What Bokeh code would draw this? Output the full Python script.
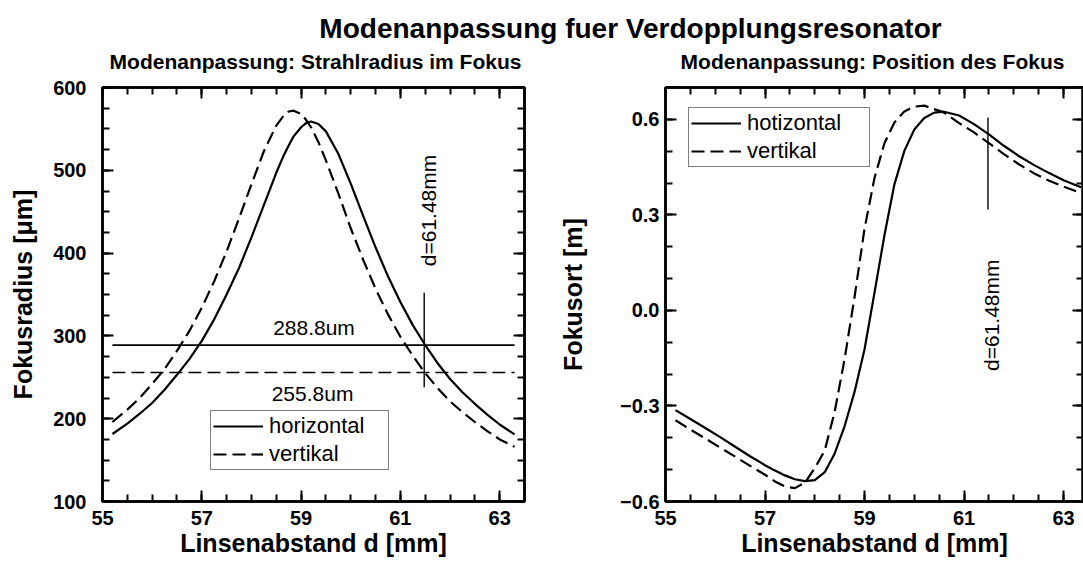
from math import pi
from bokeh.plotting import figure
from bokeh.models import (Range1d, LinearAxis, FixedTicker, CustomJSTickFormatter,
                          Label, Legend, LegendItem)
from bokeh.layouts import column, row
from bokeh.embed import file_html
from bokeh.resources import INLINE

FONT = "Liberation Sans"

# ---------------- data ----------------
title_main = "Modenanpassung fuer Verdopplungsresonator"
title_left = "Modenanpassung: Strahlradius im Fokus"
title_right = "Modenanpassung: Position des Fokus"

# left panel: beam radius in focus [um] vs lens distance d [mm]
d_left = [55.2, 55.5, 55.75, 56.0, 56.25, 56.5, 56.75, 57.0, 57.25, 57.5, 57.75, 58.0,
          58.25, 58.5, 58.65, 58.75, 58.85, 59.0, 59.1, 59.2, 59.35, 59.5, 59.75, 60.0,
          60.25, 60.5, 60.75, 61.0, 61.25, 61.5, 61.75, 62.0, 62.25, 62.5, 62.75, 63.0, 63.3]
radius_h = [181.5, 194, 206, 219, 235, 253, 272, 294, 320, 350, 382, 419,
            458, 497, 518, 530, 541, 552, 557, 559, 556, 547, 520, 484,
            445, 407, 372, 341, 313, 289, 267, 248, 232, 218, 205, 193, 181]
radius_v = [196, 211, 225, 242, 260, 282, 306, 334, 366, 402, 442, 483,
            523, 554, 566, 571, 572, 568, 561, 552, 534, 512, 472, 430,
            392, 357, 326, 299, 276, 255, 237, 221, 208, 196, 185, 175, 166]

# right panel: focus position [m] vs lens distance d [mm]
d_right = [55.2, 55.5, 55.8, 56.1, 56.4, 56.7, 57.0, 57.2, 57.4, 57.6, 57.8, 58.0,
           58.2, 58.4, 58.6, 58.8, 59.0, 59.2, 59.4, 59.6, 59.8, 60.0, 60.2, 60.4,
           60.6, 60.9, 61.2, 61.5, 61.8, 62.1, 62.4, 62.7, 63.0, 63.35]
focus_h = [-0.313, -0.341, -0.369, -0.398, -0.428, -0.458, -0.486, -0.503, -0.518, -0.530,
           -0.536, -0.533, -0.508, -0.449, -0.363, -0.255, -0.122, 0.056, 0.236, 0.396,
           0.501, 0.568, 0.604, 0.621, 0.624, 0.612, 0.585, 0.553, 0.517, 0.485,
           0.457, 0.432, 0.409, 0.387]
focus_v = [-0.345, -0.374, -0.402, -0.431, -0.459, -0.488, -0.516, -0.537, -0.553, -0.558,
           -0.541, -0.495, -0.440, -0.318, -0.152, 0.043, 0.257, 0.416, 0.525, 0.590,
           0.625, 0.640, 0.643, 0.632, 0.621, 0.588, 0.559, 0.525, 0.491, 0.459,
           0.431, 0.408, 0.389, 0.368]

# markers
marker_d = 61.48
waist_h = 288.8
waist_v = 255.8
waist_x = [55.2, 63.3]
marker_left_y = [238, 352]
marker_right_y = [0.317, 0.606]
label_waist_h = "288.8um"
label_waist_v = "255.8um"
label_marker = "d=61.48mm"

x_ticks = [55, 57, 59, 61, 63]
y_ticks_left = [100, 200, 300, 400, 500, 600]
y_ticks_right = [-0.6, -0.3, 0.0, 0.3, 0.6]

xlabel = "Linsenabstand d [mm]"
ylabel_left = "Fokusradius [\u03bcm]"
ylabel_right = "Fokusort [m]"

DASH = "13 6"
HEAD_H = 74


def style_axis(ax, ticker, show_labels):
    ax.ticker = ticker
    ax.axis_line_width = 2.5
    ax.axis_line_color = "black"
    ax.major_tick_in = 11
    ax.major_tick_out = 0
    ax.minor_tick_in = 7
    ax.minor_tick_out = 0
    ax.major_tick_line_width = 2
    ax.minor_tick_line_width = 2
    ax.major_tick_line_color = "black"
    ax.minor_tick_line_color = "black"
    if show_labels:
        ax.major_label_text_font = FONT
        ax.major_label_text_font_style = "bold"
        ax.major_label_text_font_size = "20px"
        ax.major_label_text_color = "black"
        ax.axis_label_text_font = FONT
        ax.axis_label_text_font_style = "bold"
        ax.axis_label_text_font_size = "25px"
        ax.axis_label_text_color = "black"
    else:
        ax.major_label_text_font_size = "0px"
        ax.major_label_standoff = 0
        ax.formatter = CustomJSTickFormatter(code="return '';")


def make_panel(width, xr, yr, border_left, border_right, yticks, yminor):
    p = figure(width=width, height=561 - HEAD_H, x_range=xr, y_range=yr,
               output_backend="svg", toolbar_location=None,
               min_border_left=border_left, min_border_right=border_right,
               min_border_top=87 - HEAD_H, min_border_bottom=60)
    p.xgrid.visible = False
    p.ygrid.visible = False
    p.outline_line_color = "black"
    p.outline_line_width = 2.5
    p.background_fill_color = "white"
    p.border_fill_color = "white"
    xminor = [55 + 0.5 * i for i in range(18)]
    xt = FixedTicker(ticks=x_ticks, minor_ticks=xminor)
    yt = FixedTicker(ticks=yticks, minor_ticks=yminor)
    style_axis(p.xaxis[0], xt, True)
    style_axis(p.yaxis[0], yt, True)
    p.xaxis[0].axis_label = xlabel
    p.xaxis[0].major_label_standoff = 9
    p.xaxis[0].axis_label_standoff = 1
    top = LinearAxis()
    style_axis(top, FixedTicker(ticks=x_ticks, minor_ticks=xminor), False)
    p.add_layout(top, "above")
    right = LinearAxis()
    style_axis(right, FixedTicker(ticks=yticks, minor_ticks=yminor), False)
    p.add_layout(right, "right")
    return p


def text(p, x, y, s, angle=0.0, size="21px"):
    p.add_layout(Label(x=x, y=y, text=s, angle=angle, text_align="center",
                       text_baseline="middle", text_font=FONT,
                       text_font_size=size, text_color="black"))


def legend(p, renderers, labels, loc, label_width):
    lg = Legend(items=[LegendItem(label=l, renderers=[r]) for l, r in zip(labels, renderers)],
                location=loc, padding=2, spacing=2, margin=0,
                glyph_width=50, glyph_height=24, label_height=24, label_standoff=6,
                label_width=label_width,
                label_text_font=FONT, label_text_font_size="22px", label_text_color="black",
                border_line_color="black", border_line_width=1,
                background_fill_color="white", background_fill_alpha=1.0)
    p.add_layout(lg)


# ---------------- header ----------------
head = figure(width=1083, height=HEAD_H, x_range=Range1d(0, 1083), y_range=Range1d(0, HEAD_H),
              output_backend="svg", toolbar_location=None,
              x_axis_type=None, y_axis_type=None, min_border=0)
head.outline_line_color = None
head.grid.visible = False
head.add_layout(Label(x=630, y=HEAD_H - 28, text=title_main, text_align="center",
                      text_baseline="middle", text_font=FONT, text_font_size="28px",
                      text_font_style="bold", text_color="black"))
head.add_layout(Label(x=315, y=HEAD_H - 61, text=title_left, text_align="center",
                      text_baseline="middle", text_font=FONT, text_font_size="21px",
                      text_font_style="bold", text_color="black"))
head.add_layout(Label(x=872, y=HEAD_H - 61, text=title_right, text_align="center",
                      text_baseline="middle", text_font=FONT, text_font_size="21px",
                      text_font_style="bold", text_color="black"))

# ---------------- left panel ----------------
pL = make_panel(544, Range1d(55, 63.5), Range1d(100, 600), 102, 20,
                y_ticks_left, [100 + 25 * i for i in range(21)])
pL.yaxis[0].axis_label = ylabel_left
pL.yaxis[0].major_label_standoff = 16
pL.yaxis[0].axis_label_standoff = 13

rLh = pL.line(d_left, radius_h, line_color="black", line_width=2.2, line_join="round")
rLv = pL.line(d_left, radius_v, line_color="black", line_width=2.2, line_dash=DASH, line_join="round")
pL.line(waist_x, [waist_h, waist_h], line_color="black", line_width=1.7)
pL.line(waist_x, [waist_v, waist_v], line_color="black", line_width=1.7, line_dash=DASH)
pL.line([marker_d, marker_d], marker_left_y, line_color="black", line_width=1.4)
text(pL, 59.26, 310, label_waist_h)
text(pL, 59.23, 231, label_waist_v)
text(pL, 61.56, 451.5, label_marker, angle=pi / 2)
legend(pL, [rLh, rLv], ["horizontal", "vertikal"], (108, 31), 117)

# ---------------- right panel ----------------
pR = make_panel(539, Range1d(55, 63.4), Range1d(-0.6, 0.7), 121, 0,
                y_ticks_right, [round(-0.6 + 0.1 * i, 2) for i in range(14)])
pR.yaxis[0].axis_label = ylabel_right
pR.yaxis[0].formatter = CustomJSTickFormatter(
    code="return (tick < -1e-9 ? '\u2212' : '') + Math.abs(tick).toFixed(1);")
pR.yaxis[0].major_label_standoff = 6
pR.yaxis[0].axis_label_standoff = 30

rRh = pR.line(d_right, focus_h, line_color="black", line_width=2.2, line_join="round")
rRv = pR.line(d_right, focus_v, line_color="black", line_width=2.2, line_dash=DASH, line_join="round")
pR.line([marker_d, marker_d], marker_right_y, line_color="black", line_width=1.4)
text(pR, 61.55, -0.015, label_marker, angle=pi / 2)
legend(pR, [rRh, rRv], ["hotizontal", "vertikal"], (23, 334), 120)

layout = column(head, row(pL, pR, spacing=0), spacing=0)
open("out.html", "w").write(file_html(layout, INLINE))
